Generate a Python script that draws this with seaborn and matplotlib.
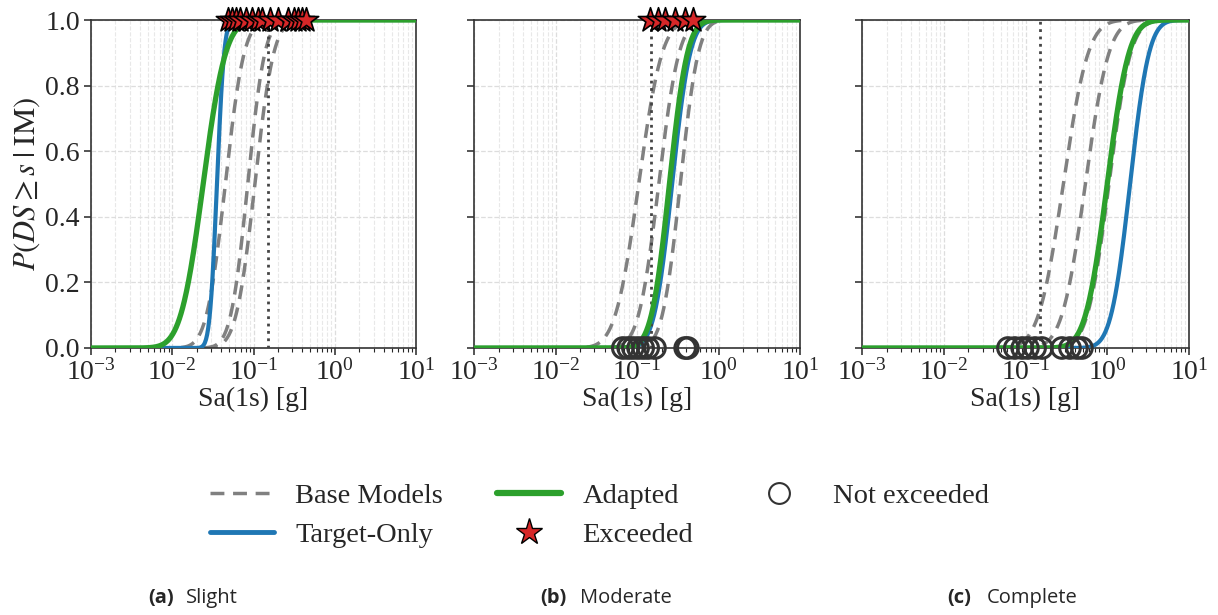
import math
import numpy as np
import pandas as pd
import matplotlib
matplotlib.use('Agg')
import matplotlib.pyplot as plt
from matplotlib.lines import Line2D
from matplotlib.ticker import LogLocator, NullFormatter
import seaborn as sns

# ============================================
# Data (fragility parameters)
# ============================================
PANELS = ['Slight', 'Moderate', 'Complete']
LETTERS = ['(a)', '(b)', '(c)']

# base models: medians [g] and log-std per damage state
base_medians = [[0.045, 0.085, 0.104],
                [0.105, 0.185, 0.34],
                [0.29, 0.54, 1.05]]
base_betas = [[0.42, 0.38, 0.42],
              [0.52, 0.45, 0.40],
              [0.55, 0.52, 0.48]]

target_medians = [0.0355, 0.27, 1.9]
target_betas = [0.16, 0.40, 0.42]

adapted_medians = [0.024, 0.25, 1.0]
adapted_betas = [0.50, 0.40, 0.48]

# observed Sa(1s) at the sites, exceeded / not exceeded
exceeded = [
    [0.0485, 0.054, 0.061, 0.068, 0.081, 0.096, 0.114, 0.127, 0.160,
     0.20, 0.266, 0.316, 0.35, 0.40, 0.44],
    [0.145, 0.181, 0.221, 0.29, 0.39, 0.49],
    [],
]
not_exceeded = [
    [],
    [0.067, 0.078, 0.089, 0.103, 0.119, 0.137, 0.166, 0.39, 0.42],
    [0.061, 0.074, 0.091, 0.107, 0.131, 0.159, 0.279, 0.35, 0.426, 0.49],
]

TARGET_IM = 0.15
Y_TICKS = [0.0, 0.2, 0.4, 0.6, 0.8, 1.0]

BLUE = '#1f77b4'
GREEN = '#2ca02c'
GREY = '#808080'
RED = '#d62728'


def lognorm_cdf(x, median, beta):
    erf = np.vectorize(math.erf)
    return 0.5 * (1.0 + erf(np.log(x / median) / (beta * math.sqrt(2.0))))


sns.set_style('white')
plt.rcParams['font.family'] = ['Liberation Serif', 'DejaVu Serif']
plt.rcParams['mathtext.fontset'] = 'stix'

fig = plt.figure(figsize=(12.18, 6.15), dpi=100)
lefts = [91, 474, 862]
rights = [416, 800, 1189]
bottom = 1 - 348 / 615
top = 1 - 20 / 615

x = np.logspace(-3, 1, 600)

for i in range(3):
    ax = fig.add_axes([lefts[i] / 1218, bottom, (rights[i] - lefts[i]) / 1218, top - bottom])

    for med, beta in zip(base_medians[i], base_betas[i]):
        df = pd.DataFrame({'x': x, 'p': lognorm_cdf(x, med, beta)})
        sns.lineplot(data=df, x='x', y='p', ax=ax, color=GREY, lw=2.5, zorder=2)
        ax.lines[-1].set_dashes([4, 2.5])

    df = pd.DataFrame({'x': x, 'p': lognorm_cdf(x, target_medians[i], target_betas[i])})
    sns.lineplot(data=df, x='x', y='p', ax=ax, color=BLUE, lw=3, zorder=3)
    df = pd.DataFrame({'x': x, 'p': lognorm_cdf(x, adapted_medians[i], adapted_betas[i])})
    sns.lineplot(data=df, x='x', y='p', ax=ax, color=GREEN, lw=3.8, zorder=4)

    ax.axvline(TARGET_IM, color='#444444', linestyle=':', lw=2, zorder=3)

    if exceeded[i]:
        ax.scatter(exceeded[i], np.ones(len(exceeded[i])), marker='*', s=340,
                   color=RED, edgecolor='black', linewidth=1.2, zorder=6, clip_on=False)
    if not_exceeded[i]:
        ax.scatter(not_exceeded[i], np.zeros(len(not_exceeded[i])), marker='o', s=220,
                   facecolor='none', edgecolor='#333333', linewidth=2.2, zorder=6, clip_on=False)

    ax.set_xscale('log')
    ax.set_xlim(1e-3, 1e1)
    ax.set_ylim(0, 1)
    ax.xaxis.set_major_locator(LogLocator(base=10, numticks=20))
    ax.xaxis.set_minor_locator(LogLocator(base=10, subs=np.arange(2, 10), numticks=20))
    ax.xaxis.set_minor_formatter(NullFormatter())
    ax.set_yticks(Y_TICKS)
    ax.grid(True, which='major', linestyle='--', color='#dddddd', lw=0.9)
    ax.grid(True, which='minor', axis='x', linestyle='--', color='#e8e8e8', lw=0.8)
    ax.tick_params(axis='both', which='major', labelsize=20, direction='out',
                   length=5, width=1.1, bottom=True, left=True, pad=3)
    ax.tick_params(axis='x', which='minor', direction='out', length=3, width=0.8, bottom=True)
    for s in ax.spines.values():
        s.set_color('#333333')
        s.set_linewidth(1.2)
    ax.set_xlabel('Sa(1s) [g]', fontsize=20, labelpad=1)
    if i == 0:
        ax.set_ylabel(r'$P(DS \geq s\;|\;\mathrm{IM})$', fontsize=22, labelpad=2)
        ax.set_yticklabels([f'{v:.1f}' for v in Y_TICKS])
    else:
        ax.set_ylabel('')
        ax.set_yticklabels([])

handles = [
    Line2D([], [], color=GREY, lw=2.5, dashes=[4, 2.5]),
    Line2D([], [], color=BLUE, lw=3.5),
    Line2D([], [], color=GREEN, lw=4.5),
    Line2D([], [], marker='*', color=RED, markeredgecolor='black', markersize=20, lw=0),
    Line2D([], [], marker='o', markerfacecolor='none', markeredgecolor='#333333',
           markeredgewidth=1.5, markersize=15, lw=0),
]
labels = ['Base Models', 'Target-Only', 'Adapted', 'Exceeded', 'Not exceeded']
fig.legend(handles, labels, loc='upper center', bbox_to_anchor=(0.492, 0.256), ncol=3,
           frameon=False, fontsize=20.5, handlelength=2.25, columnspacing=1.9,
           handletextpad=0.75, labelspacing=0.45)

# sub-captions, centred on each third of the page width
cap_y = 1 - 598 / 615
letter_x = [148, 540, 947]
word_x = [186, 580, 987]
for i in range(3):
    fig.text(letter_x[i] / 1218, cap_y, LETTERS[i], fontsize=14.5, fontweight='bold',
             family=['Open Sans', 'DejaVu Sans'], va='center')
    fig.text(word_x[i] / 1218, cap_y, PANELS[i], fontsize=14.5,
             family=['Open Sans', 'DejaVu Sans'], va='center')

fig.savefig('out.png', dpi=100)
